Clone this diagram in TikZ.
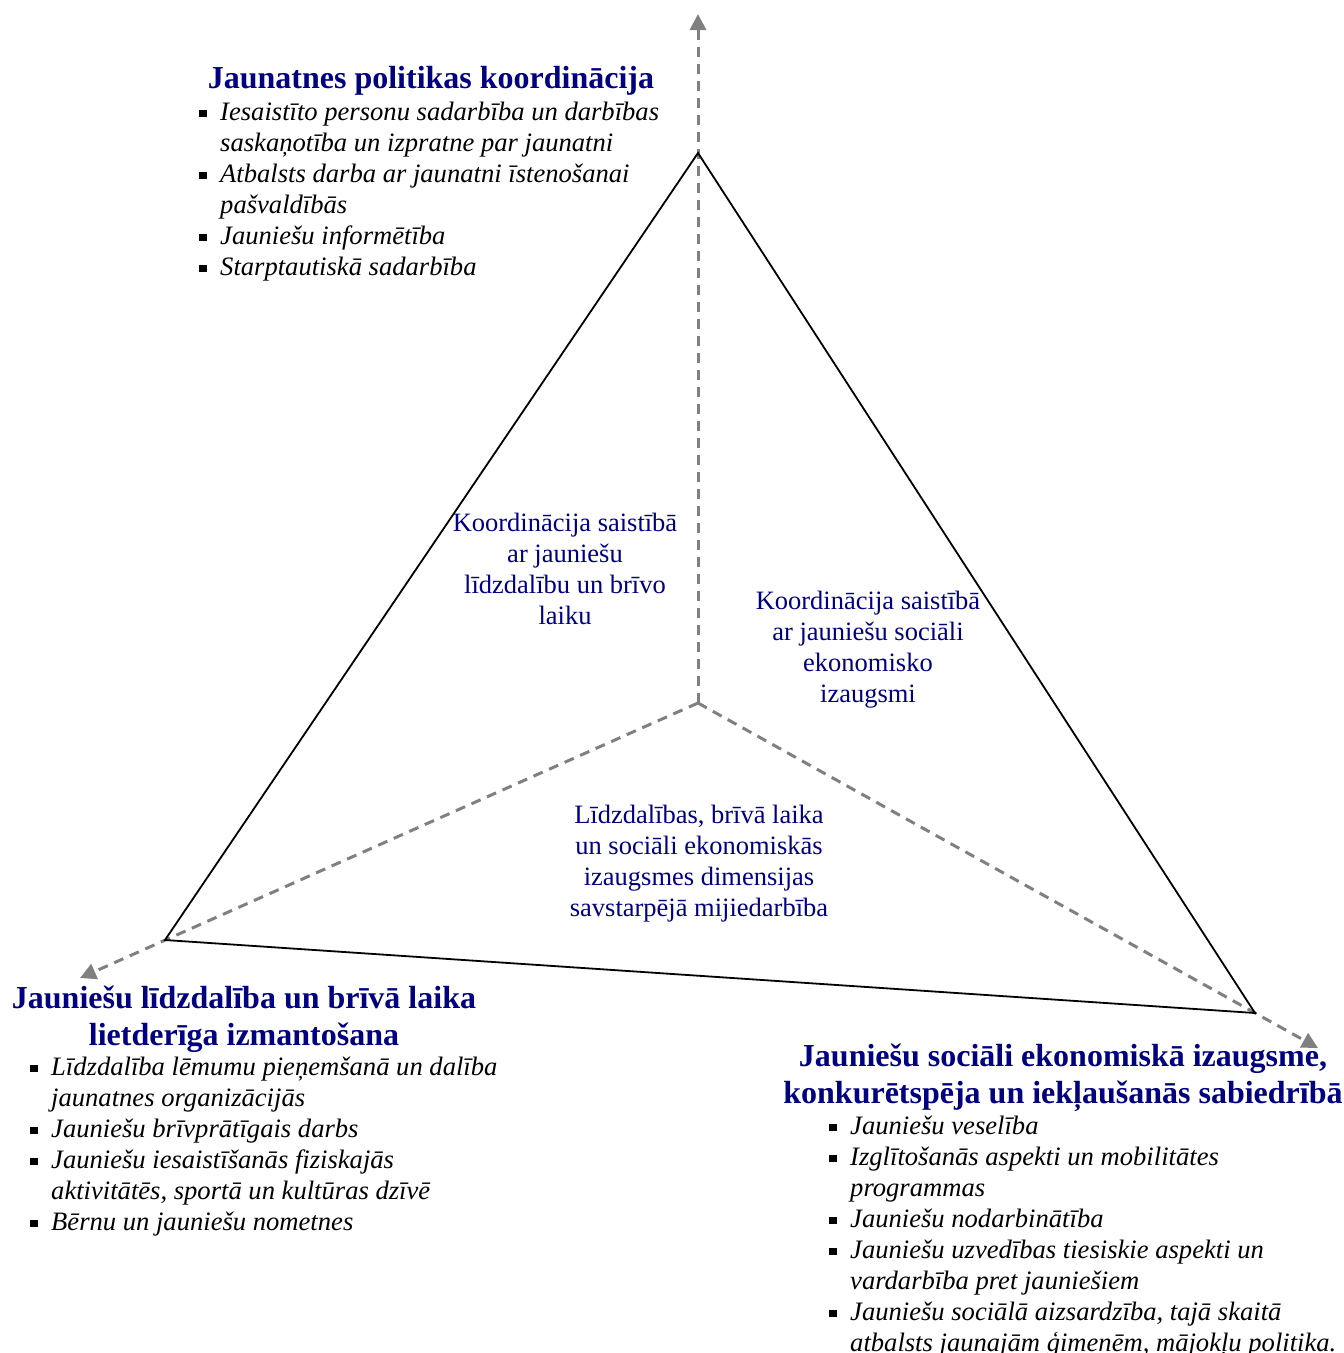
\documentclass[tikz,border=0pt]{standalone}
\usepackage{fontspec}
\setmainfont{Liberation Serif}
\usetikzlibrary{arrows.meta}
\definecolor{navy}{RGB}{0,0,128}
\definecolor{axisgray}{RGB}{128,128,128}
\newcommand{\bul}{\makebox[21pt][l]{\rule[3pt]{7.5pt}{7.5pt}}}
\newcommand{\ind}{\hspace*{21pt}}
\begin{document}
\begin{tikzpicture}[x=1pt,y=-1pt,
  tri/.style={draw=black,line width=1.8pt,line join=miter},
  axis/.style={draw=axisgray,line width=3pt,dash pattern=on 10pt off 7pt,-{Triangle[length=16pt,width=16pt]}},
  head/.style={text=navy,font=\fontsize{32}{37}\selectfont\bfseries,align=center,inner sep=0pt},
  lst/.style={font=\fontsize{26.6}{31}\selectfont\itshape,align=left,inner sep=0pt},
  dim/.style={text=navy,font=\fontsize{26.5}{31}\selectfont,align=center,inner sep=0pt}]
\useasboundingbox (0,0) rectangle (1344,1353);
\coordinate (C) at (698,703);
\coordinate (A) at (698,153);
\coordinate (L) at (165,940);
\coordinate (R) at (1255,1013);
\coordinate (At) at (698,14);
\coordinate (Lt) at (80,978);
\coordinate (Rt) at (1318,1048);
\draw[axis] (C) -- (At);
\draw[axis] (C) -- (Lt);
\draw[axis] (C) -- (Rt);
\draw[tri] (A) -- (L) -- (R) -- cycle;

\node[head,anchor=base] (h1) at (431,88) {Jaunatnes politikas koordinācija};
\node[lst,anchor=base west] (l1) at (199,275) {\bul Iesaistīto personu sadarbība un darbības\\
\ind saskaņotība un izpratne par jaunatni\\
\bul Atbalsts darba ar jaunatni īstenošanai\\
\ind pašvaldībās\\
\bul Jauniešu informētība\\
\bul Starptautiskā sadarbība};

\node[head,anchor=base] (h2) at (244,1045) {Jauniešu līdzdalība un brīvā laika\\lietderīga izmantošana};
\node[lst,anchor=base west] (l2) at (30,1230) {\bul Līdzdalība lēmumu pieņemšanā un dalība\\
\ind jaunatnes organizācijās\\
\bul Jauniešu brīvprātīgais darbs\\
\bul Jauniešu iesaistīšanās fiziskajās\\
\ind aktivitātēs, sportā un kultūras dzīvē\\
\bul Bērnu un jauniešu nometnes};

\node[head,anchor=base] (h3) at (1063,1103) {Jauniešu sociāli ekonomiskā izaugsme,\\konkurētspēja un iekļaušanās sabiedrībā};
\node[lst,anchor=base west] (l3) at (829,1351) {\bul Jauniešu veselība\\
\bul Izglītošanās aspekti un mobilitātes\\
\ind programmas\\
\bul Jauniešu nodarbinātība\\
\bul Jauniešu uzvedības tiesiskie aspekti un\\
\ind vardarbība pret jauniešiem\\
\bul Jauniešu sociālā aizsardzība, tajā skaitā\\
\ind atbalsts jaunajām ģimenēm, mājokļu politika.};

\node[dim,anchor=base] (d1) at (565,624) {Koordinācija saistībā\\ar jauniešu\\līdzdalību un brīvo\\laiku};
\node[dim,anchor=base] (d2) at (868,702) {Koordinācija saistībā\\ar jauniešu sociāli\\ekonomisko\\izaugsmi};
\node[dim,anchor=base] (d3) at (699,916) {Līdzdalības, brīvā laika\\un sociāli ekonomiskās\\izaugsmes dimensijas\\savstarpējā mijiedarbība};
\end{tikzpicture}
\end{document}
